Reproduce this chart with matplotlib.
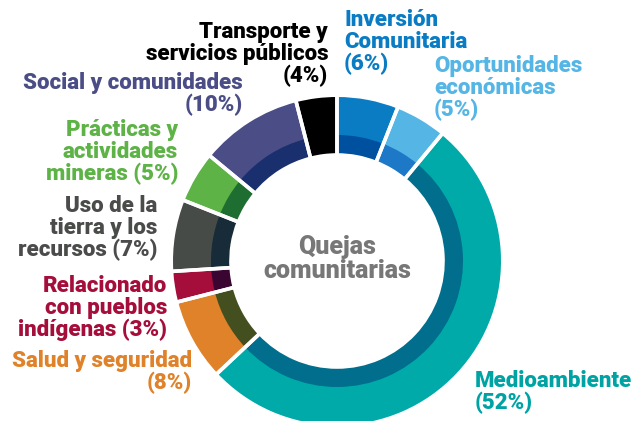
import matplotlib.pyplot as plt

# data
categories = ['Inversión Comunitaria', 'Oportunidades económicas', 'Medioambiente',
              'Salud y seguridad', 'Relacionado con pueblos indígenas',
              'Uso de la tierra y los recursos', 'Prácticas y actividades mineras',
              'Social y comunidades', 'Transporte y servicios públicos']
shares = [6, 5, 52, 8, 3, 7, 5, 10, 4]
label_texts = ['Inversión\nComunitaria\n(6%)', 'Oportunidades\neconómicas\n(5%)',
               'Medioambiente\n(52%)', 'Salud y seguridad\n(8%)',
               'Relacionado\ncon pueblos\nindígenas (3%)', 'Uso de la\ntierra y los\nrecursos (7%)',
               'Prácticas y\nactividades\nmineras (5%)', 'Social y comunidades\n(10%)',
               'Transporte y\nservicios públicos\n(4%)']
outer_colors = ['#0a7cc4', '#55b6e6', '#00aaa8', '#e0822a', '#a50e3a',
                '#474b47', '#5db346', '#4b4d87', '#000000']
inner_colors = ['#0050a0', '#1e78c8', '#006e8c', '#444f20', '#3a0530',
                '#172b38', '#1e6e32', '#1a2f6e', '#000000']
text_colors = ['#0a7cc4', '#55b6e6', '#00a3a3', '#e0822a', '#a50e3a',
               '#4a4c4a', '#5db346', '#4b4d87', '#000000']

W, H = 636, 421
FONT = ['Roboto', 'DejaVu Sans']

fig = plt.figure(figsize=(W / 100, H / 100), dpi=100)
ax = fig.add_axes([0, 0, 1, 1])

cx, cy = 337, H - 261
R_out, R_mid, R_in = 164, 126, 106
gap = 2.6  # white separator width (pt)
pad = gap * 100 / 72 / 2  # half stroke in px, compensates the stroke on the arcs

# outer ring (full width), darker inner band, then white separators
ax.pie(shares, colors=outer_colors, radius=R_out + pad, center=(cx, cy), startangle=90,
       counterclock=False, wedgeprops=dict(width=R_out + pad - R_in, linewidth=0))
ax.pie(shares, colors=inner_colors, radius=R_mid, center=(cx, cy), startangle=90,
       counterclock=False, wedgeprops=dict(width=R_mid - R_in, linewidth=0))
ax.pie(shares, colors=['none'] * len(shares), radius=R_out + pad, center=(cx, cy),
       startangle=90, counterclock=False,
       wedgeprops=dict(width=R_out + pad - R_in, linewidth=gap,
                       edgecolor='white', facecolor='none'))
ax.set_xlim(0, W)
ax.set_ylim(0, H)
ax.set_aspect('equal')
ax.axis('off')

# label positions (x, y of block middle from top, alignment)
label_pos = [(344, 42, 'left'), (434, 88, 'left'), (475, 392, 'left'),
             (192, 372, 'right'), (167, 308, 'right'), (157, 228, 'right'),
             (178, 152, 'right'), (243, 94, 'right'), (328, 54, 'right')]

for txt, col, (x, y, ha) in zip(label_texts, text_colors, label_pos):
    ax.text(x, H - y, txt, color=col, ha=ha, va='center', multialignment=ha,
            fontsize=16, fontweight='black', family=FONT, linespacing=1.0)

ax.text(cx, H - 259, 'Quejas\ncomunitarias', color='#777777', ha='center', va='center',
        fontsize=18, fontweight='black', family=FONT, linespacing=1.05)

plt.savefig('out.png', dpi=100)
